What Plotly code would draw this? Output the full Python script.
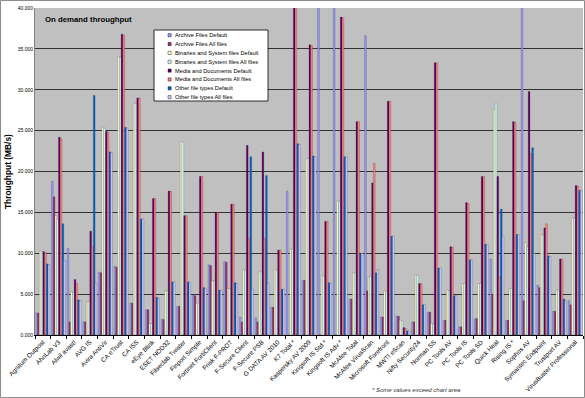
import plotly.graph_objects as go

categories = [
    "Agnitum Outpost", "AhnLab V3", "Alwil avast!", "AVG IS", "Avira AntiVir",
    "CA eTrust", "CA ISS", "eEye Blink", "ESET NOD32", "Filseclab Twister",
    "Finport Simple", "Fortinet FortiClient", "Frisk F-PROT", "F-Secure Client",
    "F-Secure PSB", "G DATA AV 2010", "K7 Total *", "Kaspersky AV 2009",
    "Kingsoft IS Std *", "Kingsoft IS Adv *", "McAfee Total", "McAfee VirusScan",
    "Microsoft Forefront", "MWTI eScan", "Nifty Security24", "Norman SS",
    "PC Tools AV", "PC Tools IS", "PC Tools SD", "Quick Heal", "Rising IS *",
    "Sophos AV", "Symantec Endpoint", "Trustport AV", "VirusBuster Professional",
]

series_names = [
    "Archive Files Default", "Archive Files All files",
    "Binaries and System files Default", "Binaries and System files All files",
    "Media and Documents Default", "Media and Documents All files",
    "Other file types Default", "Other file types All files",
]

archive_default = [2.7, 18.8, 10.6, 1.6, 7.7, 8.4, 3.9, 3.1, 1.9, 3.5,
                   4.9, 8.6, 9.0, 2.2, 2.1, 3.4, 17.6, 6.7, 50.0, 50.0,
                   4.4, 36.6, 2.2, 2.3, 1.6, 2.8, 1.8, 1.0, 2.0, 9.3,
                   1.8, 50.0, 6.1, 2.9, 4.2]
archive_all = [2.7, 16.9, 1.6, 1.6, 7.6, 8.3, 3.9, 3.1, 1.9, 3.5,
               4.8, 8.5, 8.9, 1.6, 1.6, 3.4, 0.0, 6.7, 0.0, 0.0,
               4.4, 5.4, 2.2, 2.3, 1.6, 2.8, 1.8, 1.0, 2.0, 5.0,
               1.8, 4.2, 5.8, 2.9, 3.7]
binaries_default = [10.3, 14.6, 5.3, 4.1, 25.4, 34.0, 28.4, 1.4, 5.4, 23.7,
                    3.9, 6.6, 5.7, 8.0, 7.8, 8.0, 10.5, 21.6, 7.3, 16.4,
                    7.6, 7.1, 5.4, 1.8, 7.35, 1.4, 5.5, 6.3, 6.3, 27.6,
                    5.7, 11.3, 12.3, 5.5, 14.3]
binaries_all = [10.2, 14.2, 5.2, 4.1, 25.3, 34.0, 28.3, 1.4, 5.4, 23.6,
                3.9, 6.6, 5.7, 7.9, 7.7, 7.9, 10.5, 21.6, 7.2, 16.3,
                7.6, 7.2, 5.3, 1.7, 7.3, 1.4, 5.4, 6.3, 6.3, 28.4,
                5.7, 10.8, 12.2, 5.5, 14.3]
media_default = [10.2, 24.2, 6.8, 12.7, 24.9, 36.8, 29.0, 16.7, 17.6, 14.6,
                 19.4, 15.0, 16.0, 23.2, 22.4, 10.4, 45.0, 35.5, 13.9, 38.9,
                 26.1, 18.6, 28.6, 0.9, 6.3, 33.3, 10.8, 16.2, 19.4, 19.4,
                 26.1, 29.8, 13.1, 9.3, 18.3]
media_all = [10.1, 24.0, 6.3, 10.8, 24.8, 36.7, 29.0, 16.7, 17.6, 14.6,
             19.4, 15.0, 16.0, 11.8, 11.8, 10.4, 45.0, 35.4, 13.9, 38.8,
             26.1, 21.0, 28.6, 0.8, 6.3, 33.3, 10.7, 16.1, 19.4, 7.1,
             26.0, 22.2, 13.6, 9.3, 18.2]
other_default = [8.7, 13.6, 4.3, 29.3, 22.4, 25.4, 14.2, 4.6, 6.5, 6.5,
                 5.8, 5.5, 6.4, 21.8, 19.5, 5.6, 23.4, 21.9, 6.4, 21.8,
                 10.0, 7.6, 12.1, 0.5, 3.7, 8.2, 4.8, 9.2, 11.1, 15.4,
                 12.3, 22.9, 9.7, 4.4, 17.7]
other_all = [8.6, 9.1, 4.2, 6.4, 22.3, 25.3, 14.2, 4.5, 6.5, 6.5,
             5.7, 5.5, 6.3, 5.6, 6.3, 5.6, 23.3, 21.8, 6.4, 21.8,
             10.0, 8.0, 12.1, 0.5, 3.7, 8.2, 4.8, 9.2, 11.1, 12.1,
             12.3, 10.0, 9.6, 4.2, 17.7]

series_values = [archive_default, archive_all, binaries_default, binaries_all,
                 media_default, media_all, other_default, other_all]

colors = ["#9999FF", "#993366", "#FFFFCC", "#CCFFFF",
          "#660066", "#FF8080", "#0066CC", "#CCCCFF"]

y_ticks = [0, 5, 10, 15, 20, 25, 30, 35, 40]

title_text = "On demand throughput"
y_title = "Throughput (MB/s)"
footnote = "* Some values exceed chart area"

FONT = "Liberation Sans, Arial, sans-serif"

# plot-area geometry in pixels (for placing decorations)
W, H = 585, 398
L, R, T, B = 35, 2, 8, 63
PW = W - L - R
PH = H - T - B


def px(x):
    return (x - L) / PW


def py(y):
    return (H - B - y) / PH


fig = go.Figure()
for name, vals, col in zip(series_names, series_values, colors):
    fig.add_trace(go.Bar(
        x=categories, y=vals, name=name, showlegend=False,
        marker=dict(color=col, line=dict(color="rgba(0,0,0,0.45)", width=0.4)),
    ))

shapes = []
annotations = []

# outer chart border
shapes.append(dict(type="rect", xref="paper", yref="paper",
                   x0=px(0.5), x1=px(W - 0.5), y0=py(H - 0.5), y1=py(0.5),
                   line=dict(color="#8c8c8c", width=1), fillcolor="rgba(0,0,0,0)",
                   layer="above"))

# custom compact legend
lx0, lx1, ly0, ly1 = 154, 268, 30, 101
shapes.append(dict(type="rect", xref="paper", yref="paper",
                   x0=px(lx0), x1=px(lx1), y0=py(ly1), y1=py(ly0),
                   line=dict(color="#000000", width=0.8), fillcolor="#FFFFFF",
                   layer="above"))
for i, (name, col) in enumerate(zip(series_names, colors)):
    cy = 35.2 + i * 8.85
    shapes.append(dict(type="rect", xref="paper", yref="paper",
                       x0=px(168), x1=px(171.2), y0=py(cy + 1.6), y1=py(cy - 1.6),
                       line=dict(color="#000000", width=0.4), fillcolor=col,
                       layer="above"))
    annotations.append(dict(text=name, xref="paper", yref="paper",
                            x=px(172.5), y=py(cy), xanchor="left", yanchor="middle",
                            showarrow=False, font=dict(family=FONT, size=5.7, color="#000")))

annotations.append(dict(text="<b>" + title_text + "</b>", xref="paper", yref="paper",
                        x=px(42.5), y=py(19.5), xanchor="left", yanchor="middle",
                        showarrow=False, font=dict(family=FONT, size=7.8, color="#000")))
annotations.append(dict(text="<b>" + y_title + "</b>", xref="paper", yref="paper",
                        x=px(8), y=py(172), xanchor="center", yanchor="middle",
                        textangle=-90, showarrow=False,
                        font=dict(family=FONT, size=8.4, color="#000")))
annotations.append(dict(text="<i>" + footnote + "</i>", xref="paper", yref="paper",
                        x=px(416), y=py(390), xanchor="center", yanchor="middle",
                        showarrow=False, font=dict(family=FONT, size=6, color="#333")))

fig.update_layout(
    width=W, height=H,
    margin=dict(l=L, r=R, t=T, b=B, pad=0),
    paper_bgcolor="#FFFFFF",
    plot_bgcolor="#C0C0C0",
    barmode="group", bargap=0.1, bargroupgap=0,
    font=dict(family=FONT, color="#000"),
    shapes=shapes,
    annotations=annotations,
    showlegend=False,
    xaxis=dict(
        type="category", showline=True, linecolor="#000", linewidth=1,
        ticks="outside", tickson="boundaries", ticklen=3, tickcolor="#000",
        tickwidth=0.8, tickangle=-45, tickfont=dict(family=FONT, size=6.4),
        showgrid=False, fixedrange=True, automargin=False,
    ),
    yaxis=dict(
        range=[0, 40], tickvals=y_ticks, tickformat=".3f",
        showgrid=True, gridcolor="#333333", gridwidth=0.9,
        showline=True, linecolor="#808080", linewidth=1,
        zeroline=False, ticks="", tickfont=dict(family=FONT, size=5, color="#000"),
        fixedrange=True, automargin=False,
    ),
)

fig.write_html(
    "out.html",
    config={"displayModeBar": False},
    post_script="document.body.style.margin='0';document.body.style.overflow='hidden';",
)
